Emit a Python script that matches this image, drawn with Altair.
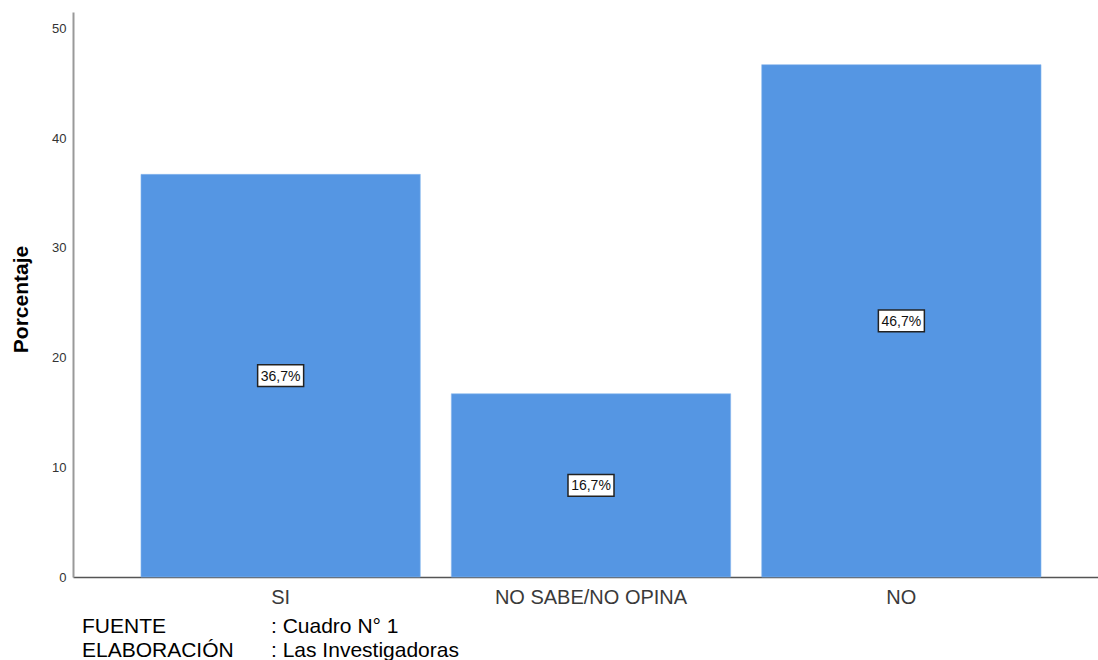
import altair as alt
import pandas as pd

categorias = ["SI", "NO SABE/NO OPINA", "NO"]
porcentajes = [36.7, 16.7, 46.7]
etiquetas = ["36,7%", "16,7%", "46,7%"]

nota_claves = ["FUENTE", "ELABORACIÓN"]
nota_valores = [": Cuadro N° 1", ": Las Investigadoras"]

df = pd.DataFrame({
    "categoria": categorias,
    "porcentaje": porcentajes,
    "etiqueta": etiquetas,
})
df["mitad"] = df["porcentaje"] / 2

notas = pd.DataFrame({"clave": nota_claves, "valor": nota_valores, "fila": [0, 1]})

W, H = 1025, 565

x = alt.X(
    "categoria:N",
    sort=categorias,
    scale=alt.Scale(range=[0, 1036], paddingInner=0.1, paddingOuter=0.219),
    axis=alt.Axis(
        title=None, labelAngle=0, labelFontSize=20, labelColor="#3a3a3a",
        labelFont="Liberation Sans", labelPadding=10, labelLimit=500, ticks=False,
        domainColor="#555555", domainWidth=1.5,
    ),
)

bars = alt.Chart(df).mark_bar(color="#5596E3", stroke="#8ab8ee", strokeWidth=0.6).encode(
    x=x,
    y=alt.Y(
        "porcentaje:Q",
        scale=alt.Scale(domain=[0, 51.5], nice=False),
        axis=alt.Axis(
            title="Porcentaje", values=[0, 10, 20, 30, 40, 50], ticks=False,
            labelFontSize=13, labelColor="#333333", labelFont="Liberation Sans",
            labelPadding=7, grid=False, domainColor="#999999", domainWidth=2,
            titleFontSize=21, titleFontWeight="bold", titleFont="Liberation Sans",
            titleColor="#000000", titleX=-52, titleY=287, titleAngle=270,
            titleAlign="center", titleBaseline="middle",
        ),
    ),
)

# value labels: white box with dark border at half the bar height
caja = alt.Chart(df).mark_point(
    shape="M-1,-0.47L1,-0.47L1,0.47L-1,0.47Z", size=2116, filled=True,
    fill="white", stroke="#222222", strokeWidth=1.5, opacity=1,
).encode(x=alt.X("categoria:N", sort=categorias), y="mitad:Q")

texto = alt.Chart(df).mark_text(
    fontSize=14, font="Liberation Sans", color="#111111", baseline="middle", dy=1,
).encode(x=alt.X("categoria:N", sort=categorias), y="mitad:Q", text="etiqueta:N")


def nota(campo, fila, xpos, ypos):
    return alt.Chart(notas).transform_filter(alt.datum.fila == fila).mark_text(
        align="left", baseline="alphabetic", fontSize=21,
        font="Liberation Sans", color="#000000",
    ).encode(x=alt.value(xpos), y=alt.value(ypos), text=f"{campo}:N")


notas_capas = [
    nota("clave", 0, 9, 621), nota("valor", 0, 198, 621),
    nota("clave", 1, 9, 645), nota("valor", 1, 198, 645),
]

chart = alt.layer(bars, caja, texto, *notas_capas).properties(
    width=W, height=H,
    autosize=alt.AutoSizeParams(type="none"),
    padding={"left": 73, "top": 12, "right": 0, "bottom": 83},
    background="white",
).configure_view(stroke=None)

chart.save("out.html", embed_options={"renderer": "svg", "actions": False})
